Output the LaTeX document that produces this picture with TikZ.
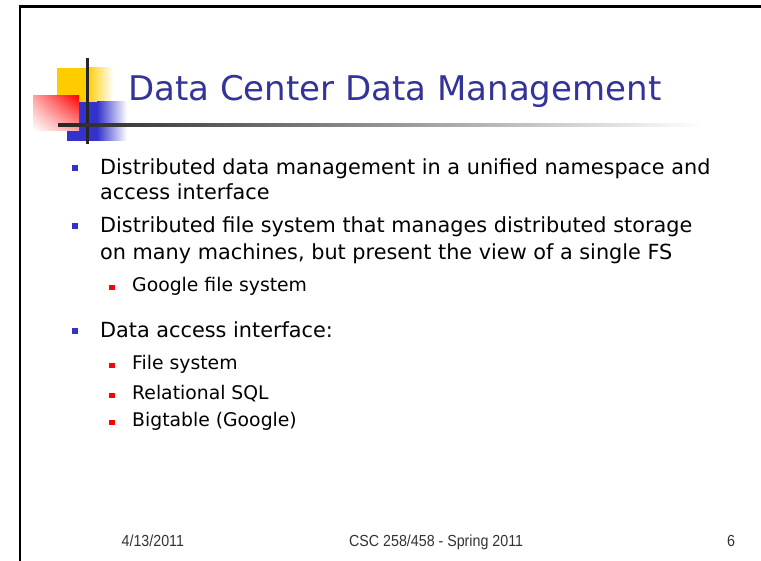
\documentclass[tikz,border=0pt]{standalone}
\usepackage{fontspec}
\setmainfont{DejaVu Sans}
\newfontfamily\footfont[FakeStretch=0.89]{Liberation Sans}
\usetikzlibrary{positioning,shadings}

\definecolor{titleblue}{RGB}{51,51,153}
\definecolor{logoyellow}{RGB}{255,204,0}
\definecolor{logoblue}{RGB}{51,51,204}
\definecolor{subred}{RGB}{255,0,0}

\tikzset{
  line/.style={anchor=base west,inner sep=0pt,font=\fontsize{20.8}{24}\selectfont},
  subline/.style={anchor=base west,inner sep=0pt,font=\fontsize{18.8}{20}\selectfont},
  foot/.style={anchor=base west,inner sep=0pt,text=black!80,font=\footfont\fontsize{16}{18}\selectfont},
  mainbullet/.style={fill=logoblue,inner sep=0pt,minimum size=6pt},
  subbullet/.style={fill=subred,inner sep=0pt,minimum size=5.5pt},
}

\begin{document}
\begin{tikzpicture}[x=1pt,y=-1pt]
  \useasboundingbox (0,0) rectangle (761,561);

  % slide frame
  \draw[line width=2.5pt] (20,561) -- (20,6.5) -- (761,6.5);

  % logo
  \fill[logoyellow] (57,68) rectangle (87,102);
  \shade[left color=logoyellow,right color=white] (87,68) rectangle (113,102);
  \fill[logoblue] (67,102) rectangle (97,141);
  \shade[left color=logoblue,right color=white] (97,102) rectangle (127,141);
  \shade[upper right=subred,upper left=subred!35,lower right=subred!35,lower left=white]
    (33,96) rectangle (79,131);
  \fill[black!85] (85.5,58) rectangle (88.5,144);
  \shade[left color=black!85,right color=white] (58,123.5) rectangle (704,126.5);

  % title
  \node[anchor=base west,inner sep=0pt,text=titleblue,font=\fontsize{34}{38}\selectfont]
    (title) at (128,101) {Data Center Data Management};

  % bullets
  \begin{scope}[every node/.style={line}]
    \node (l1) at (100,175) {Distributed data management in a unified namespace and};
    \node (l2) at (100,200) {access interface};
    \node (l3) at (100,233) {Distributed file system that manages distributed storage};
    \node (l4) at (100,260) {on many machines, but present the view of a single FS};
    \node (l5) at (100,338) {Data access interface:};
  \end{scope}

  \begin{scope}[every node/.style={subline}]
    \node (s1) at (132,292) {Google file system};
    \node (s2) at (132,370) {File system};
    \node (s3) at (132,400) {Relational SQL};
    \node (s4) at (132,427) {Bigtable (Google)};
  \end{scope}

  \node[mainbullet] (b1) at (75,168.5) {};
  \node[mainbullet] (b3) at (75,226.5) {};
  \node[mainbullet] (b5) at (75,331.5) {};
  \node[subbullet] (c1) at (112,287.5) {};
  \node[subbullet] (c2) at (112,365.5) {};
  \node[subbullet] (c3) at (112,395.5) {};
  \node[subbullet] (c4) at (112,422.5) {};

  % footer
  \begin{scope}[every node/.style={foot}]
    \node (date) at (121.5,546.5) {4/13/2011};
    \node (course) at (349,546.5) {CSC 258/458 - Spring 2011};
    \node (page) at (727,546.5) {6};
  \end{scope}

\end{tikzpicture}
\end{document}
